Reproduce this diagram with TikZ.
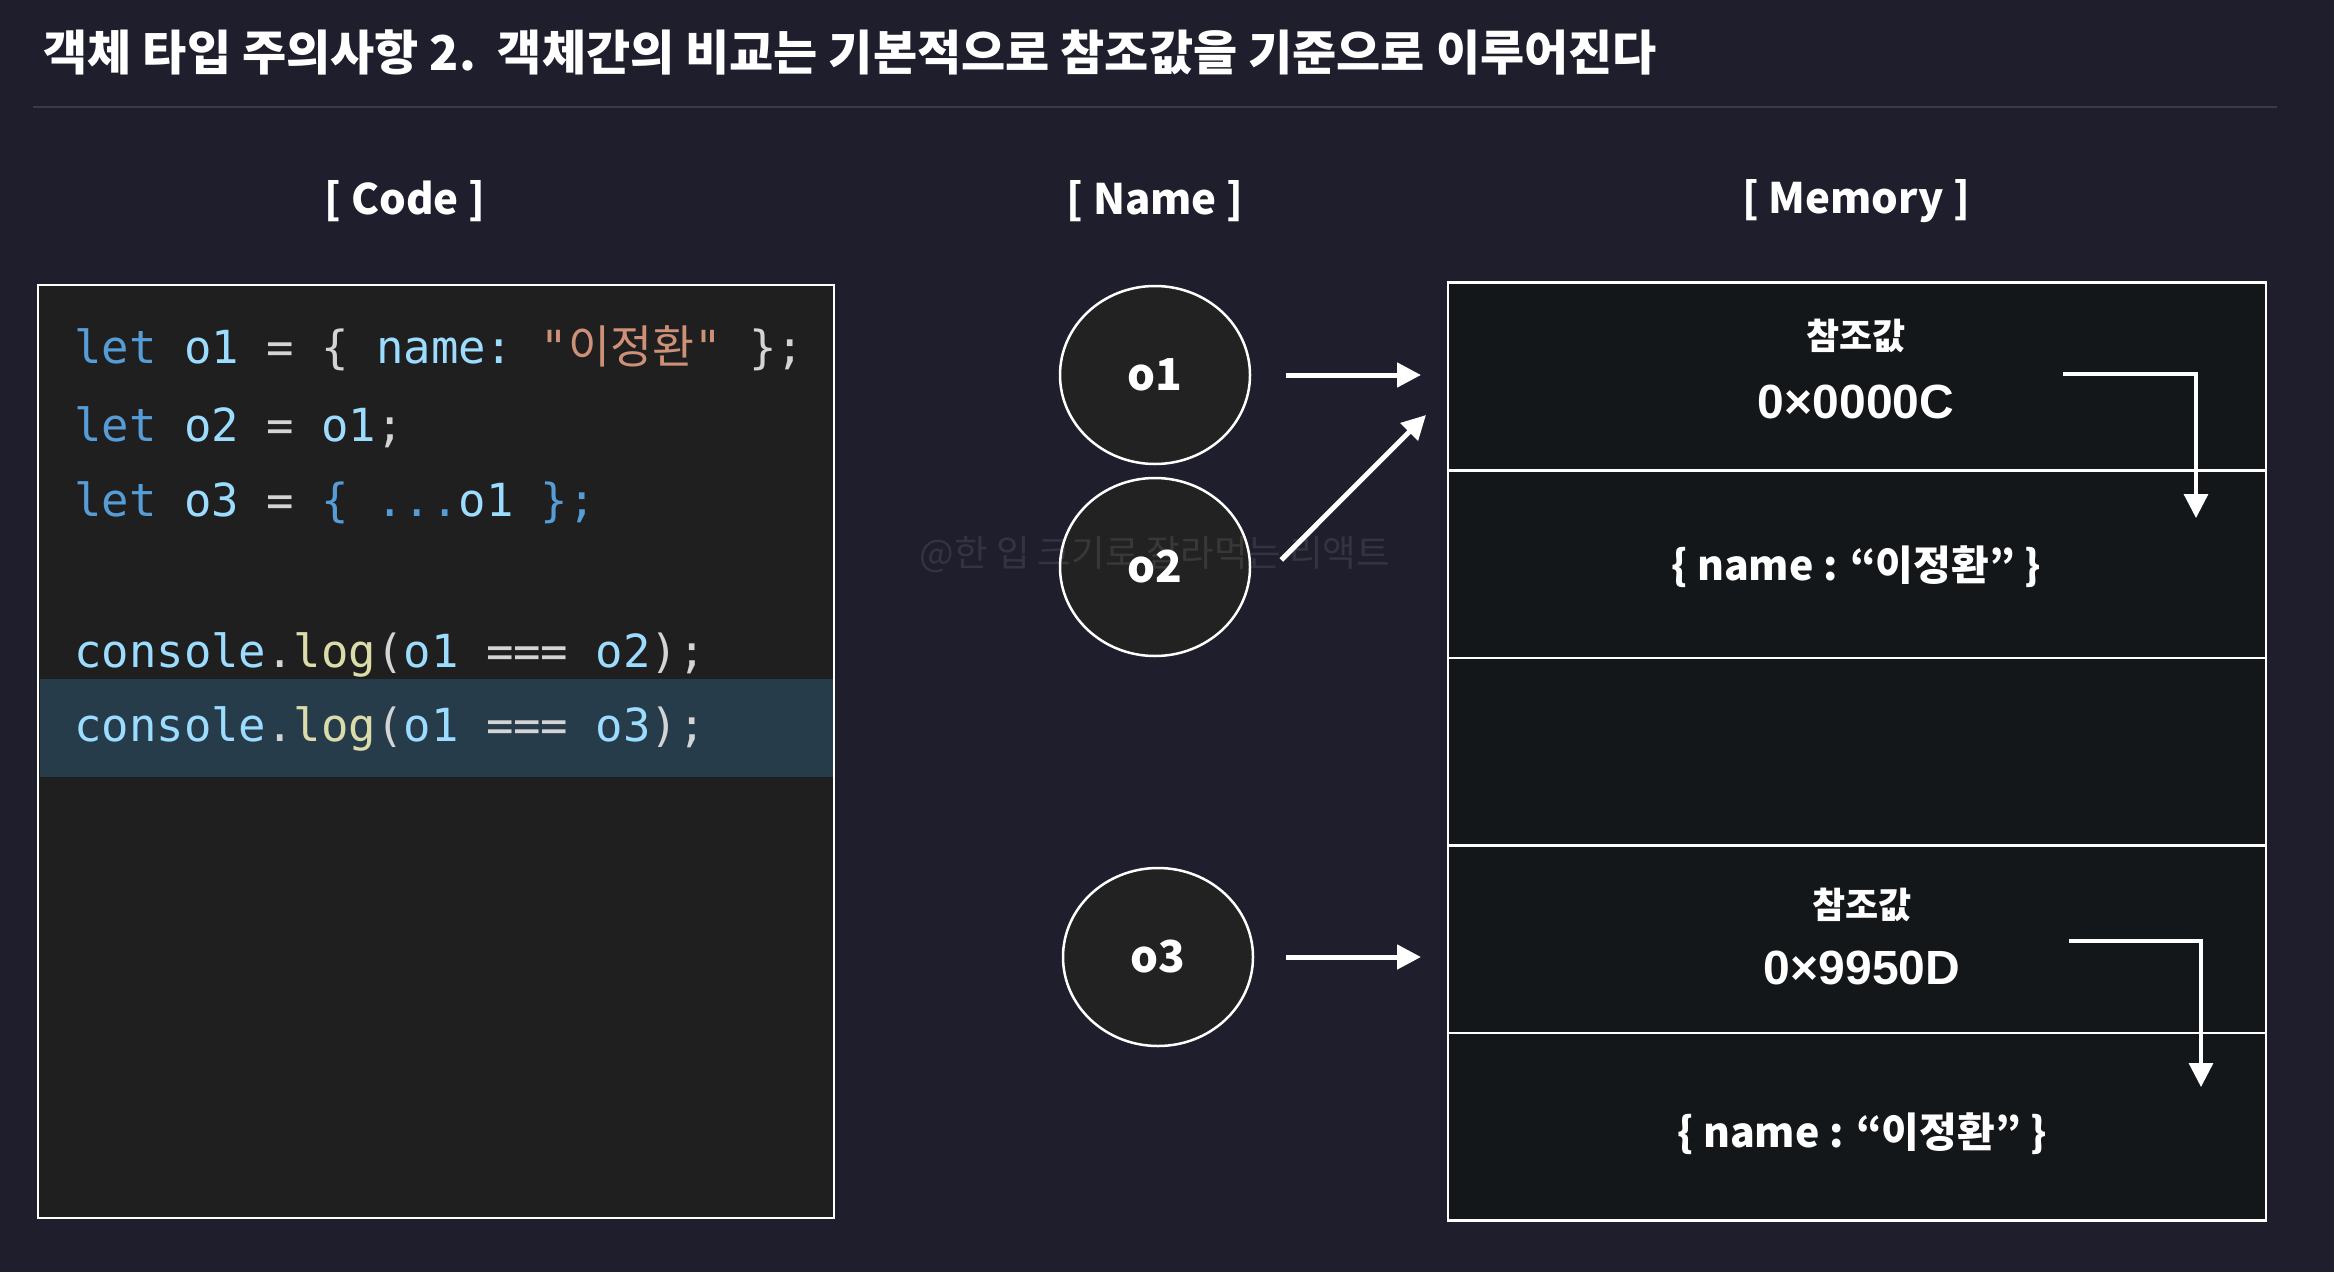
\documentclass[tikz,border=0pt]{standalone}
\usepackage{fontspec}
\setmainfont{Noto Sans CJK KR}
\newfontfamily\krfont{Noto Sans CJK KR}
\newfontfamily\codefont{DejaVu Sans Mono}
\newfontfamily\latinfont{Liberation Sans}
\usetikzlibrary{positioning,shapes.geometric,arrows.meta}

\definecolor{bgnavy}{HTML}{1E1E2C}
\definecolor{rulegray}{HTML}{3A3A48}
\definecolor{codefill}{HTML}{1F1F1F}
\definecolor{hlblue}{HTML}{263C4B}
\definecolor{circfill}{HTML}{222222}
\definecolor{memfill}{HTML}{141719}
\definecolor{kwblue}{HTML}{569CD6}
\definecolor{varblue}{HTML}{9CDCFE}
\definecolor{plaingray}{HTML}{D4D4D4}
\definecolor{strorange}{HTML}{CE9178}
\definecolor{fnyellow}{HTML}{DCDCAA}

\newcommand{\cKw}[1]{\textcolor{kwblue}{#1}}
\newcommand{\cVar}[1]{\textcolor{varblue}{#1}}
\newcommand{\cPln}[1]{\textcolor{plaingray}{#1}}
\newcommand{\cStr}[1]{\textcolor{strorange}{#1}}
\newcommand{\cFn}[1]{\textcolor{fnyellow}{#1}}

\begin{document}
\begin{tikzpicture}
  [x=1pt,y=-1pt,
   every node/.style={text=white,font=\bfseries},
   header/.style={font=\bfseries\fontsize{42}{48}\selectfont},
   var/.style={ellipse,draw=white,line width=2.5pt,fill=circfill,minimum width=190pt,minimum height=178pt,font=\bfseries\fontsize{44}{50}\selectfont},
   cell/.style={rectangle,draw=white,line width=2.5pt,fill=memfill,minimum width=818pt,minimum height=187.6pt,outer sep=0pt},
   tag/.style={font=\bfseries\fontsize{36}{40}\selectfont},
   addr/.style={font=\latinfont\bfseries\fontsize{48}{54}\selectfont},
   val/.style={font=\bfseries\fontsize{41}{46}\selectfont},
   codeline/.style={anchor=base west,inner sep=0pt,font=\codefont\frenchspacing\fontsize{45.6}{50}\selectfont},
   ref/.style={-{Triangle[length=24pt,width=24pt]},line width=5pt,white},
   ptr/.style={-{Triangle[length=24pt,width=24pt]},line width=3.3pt,white}]

  \fill[bgnavy] (0,0) rectangle (2334,1272);
  \useasboundingbox (0,0) rectangle (2334,1272);

  % title
  \node[anchor=west,font=\bfseries\fontsize{48}{54}\selectfont] (title) at (40,52)
    {객체 타입 주의사항 2.~~객체간의 비교는 기본적으로 참조값을 기준으로 이루어진다};
  \draw[rulegray,line width=2pt] (33,107) -- (2277,107);

  % headers
  \node[header] (hcode) at (405,201) {[ Code ]};
  \node[header] (hname) at (1155,201) {[ Name ]};
  \node[header] (hmem) at (1856,201) {[ Memory ]};

  % code
  \node[draw=white,line width=2pt,fill=codefill,minimum width=796pt,minimum height=933pt,
        anchor=north west,outer sep=0pt] (codebox) at (38,285) {};
  \node[fill=hlblue,minimum width=793pt,minimum height=98pt,anchor=north west,inner sep=0pt] (hl) at (39.5,679) {};

  \node[codeline] (c1) at (74,363) {\cKw{let} \cVar{o1} \cPln{= \{} \cVar{name:} \cStr{"{\krfont 이정환}"} \cPln{\};}};
  \node[codeline] (c2) at (74,441) {\cKw{let} \cVar{o2} \cPln{=} \cVar{o1}\cPln{;}};
  \node[codeline] (c3) at (74,516) {\cKw{let} \cVar{o3} \cPln{=} \cKw{\{ ...}\cVar{o1} \cKw{\};}};
  \node[codeline] (c4) at (74,667) {\cVar{console}\cPln{.}\cFn{log}\cPln{(}\cVar{o1} \cPln{===} \cVar{o2}\cPln{);}};
  \node[codeline] (c5) at (74,741) {\cVar{console}\cPln{.}\cFn{log}\cPln{(}\cVar{o1} \cPln{===} \cVar{o3}\cPln{);}};

  % names
  \node[var] (o1) at (1155,375) {o1};
  \node[var] (o2) at (1155,567) {o2};
  \node[var] (o3) at (1158,957) {o3};

  % memory
  \node[cell] (m1) at (1857,376.5) {};
  \node[cell,below=0pt of m1] (m2) {};
  \node[cell,below=0pt of m2] (m3) {};
  \node[cell,below=0pt of m3] (m4) {};
  \node[cell,below=0pt of m4] (m5) {};

  \node[tag] (tag1) at (1856,336) {참조값};
  \node[addr] (addr1) at (1856,402) {0×0000C};
  \node[val] (val1) at (1856,567) {\{ name : “이정환” \}};
  \node[tag] (tag2) at (1862,905) {참조값};
  \node[addr] (addr2) at (1862,968) {0×9950D};
  \node[val] (val2) at (1862,1134) {\{ name : “이정환” \}};

  % references
  \draw[ref,shorten <=35pt,shorten >=27pt] (o1.east) -- (o1.east -| m1.west);
  \draw[ref] ([xshift=30pt,yshift=7pt]o2.east) -- ([xshift=-22pt,yshift=-38.5pt]m1.west);
  \draw[ref,shorten <=32pt,shorten >=27pt] (o3.east) -- (o3.east -| m4.west);

  \coordinate (p1) at (2063,374);
  \coordinate (q1) at (2196,518);
  \coordinate (p2) at (2069,941);
  \coordinate (q2) at (2201,1087);
  \draw[ptr] (p1) -| (q1);
  \draw[ptr] (p2) -| (q2);

  \node[text=white,text opacity=0.1,font=\fontsize{36.5}{40}\selectfont] (mark) at (1155,555) {@한 입 크기로 잘라먹는 리액트};
\end{tikzpicture}
\end{document}
